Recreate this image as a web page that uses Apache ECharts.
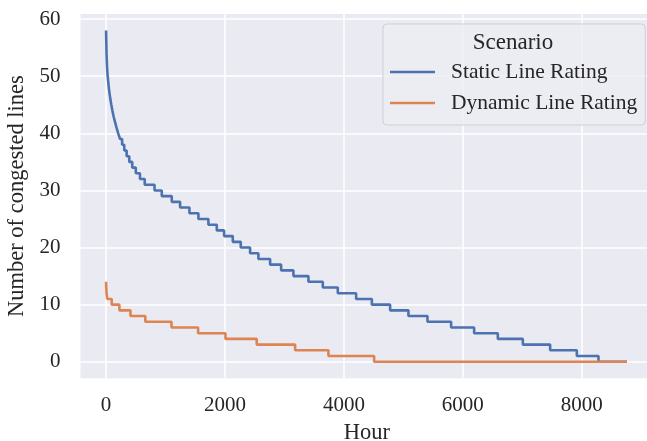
<!DOCTYPE html>
<html>
<head>
<meta charset="utf-8">
<script src="https://cdn.jsdelivr.net/npm/echarts@6/dist/echarts.min.js"></script>
<style>
html,body{margin:0;padding:0;background:#ffffff;}
#chart{width:647px;height:441px;}
</style>
</head>
<body>
<div id="chart"></div>
<script>
// Static Line Rating: congestion levels and hour at which each level starts (duration curve)
const slrLevels = [58,57,56,55,54,53,52,51,50,49,48,47,46,45,44,43,42,41,40,39,38,37,36,35,34,33,32,31,30,29,28,27,26,25,24,23,22,21,20,19,18,17,16,15,14,13,12,11,10,9,8,7,6,5,4,3,2,1,0];
const slrStartHours = [0,2,4,6,8,11,15,20,27,36,46,58,72,88,106,126,150,176,204,236,270,306,346,390,440,500,570,650,815,937,1105,1245,1402,1553,1721,1862,1985,2131,2265,2422,2562,2759,2944,3151,3403,3645,3897,4205,4470,4777,5085,5405,5803,6190,6588,7009,7468,7917,8281];
// Dynamic Line Rating
const dlrLevels = [14,13,12,11,10,9,8,7,6,5,4,3,2,1,0];
const dlrStartHours = [0,3,8,20,95,224,410,660,1100,1548,2008,2534,3179,3740,4508];
const lastHour = 8760;
const seriesNames = ['Static Line Rating', 'Dynamic Line Rating'];
const xTicks = [0, 2000, 4000, 6000, 8000];
const yTicks = [0, 10, 20, 30, 40, 50, 60];

function buildSteps(levels, starts) {
  const d = levels.map((v, i) => [starts[i], v]);
  d.push([lastHour, levels[levels.length - 1]]);
  return d;
}

const FONT = "'Liberation Serif', 'DejaVu Serif', serif";
const TXT = '#262626';

const chart = echarts.init(document.getElementById('chart'), null, {renderer: 'canvas'});
chart.setOption({
  animation: false,
  backgroundColor: '#ffffff',
  textStyle: {fontFamily: FONT},
  grid: {
    left: 80.5, top: 14, width: 572.5, height: 364.3,
    outerBoundsMode: 'none', containLabel: false,
    show: true, backgroundColor: '#EAEAF2', borderWidth: 0
  },
  xAxis: {
    type: 'value', min: -430, max: 9198,
    name: 'Hour', nameLocation: 'middle', nameGap: 43,
    nameTextStyle: {fontFamily: FONT, fontSize: 22.5, color: TXT},
    axisLine: {show: false},
    axisTick: {show: false, customValues: xTicks},
    axisLabel: {customValues: xTicks, formatter: v => String(v), fontFamily: FONT, fontSize: 21, color: TXT, margin: 17},
    splitLine: {show: true, lineStyle: {color: '#ffffff', width: 1.5}}
  },
  yAxis: {
    type: 'value', min: -2.9, max: 60.9,
    name: 'Number of congested lines', nameLocation: 'middle', nameGap: 49,
    nameTextStyle: {fontFamily: FONT, fontSize: 22.5, color: TXT},
    axisLine: {show: false},
    axisTick: {show: false, customValues: yTicks},
    axisLabel: {customValues: yTicks, fontFamily: FONT, fontSize: 21, color: TXT, margin: 20},
    splitLine: {show: true, lineStyle: {color: '#ffffff', width: 1.5}}
  },
  legend: {
    data: seriesNames,
    orient: 'vertical',
    left: 383, top: 24,
    padding: [37, 8, 11, 7],
    itemWidth: 45, itemHeight: 14, itemGap: 9,
    icon: 'path://M0,0 L45,0 L45,2.6 L0,2.6 Z',
    backgroundColor: 'rgba(236,236,243,0.85)',
    borderColor: '#cfcfd6', borderWidth: 1, borderRadius: 4,
    textStyle: {fontFamily: FONT, fontSize: 21.5, color: TXT, lineHeight: 21, padding: [0, 0, 0, 11]}
  },
  graphic: [{
    type: 'text', z: 100,
    x: 513, y: 43,
    style: {text: 'Scenario', fontFamily: FONT, fontSize: 23, fill: TXT, textAlign: 'center', textVerticalAlign: 'middle'}
  }],
  series: [
    {
      name: seriesNames[0], type: 'line', step: 'end', showSymbol: false,
      data: buildSteps(slrLevels, slrStartHours),
      lineStyle: {color: '#4C72B0', width: 2.6}, itemStyle: {color: '#4C72B0'}
    },
    {
      name: seriesNames[1], type: 'line', step: 'end', showSymbol: false,
      data: buildSteps(dlrLevels, dlrStartHours),
      lineStyle: {color: '#DD8452', width: 2.6}, itemStyle: {color: '#DD8452'}
    }
  ]
});
</script>
</body>
</html>
